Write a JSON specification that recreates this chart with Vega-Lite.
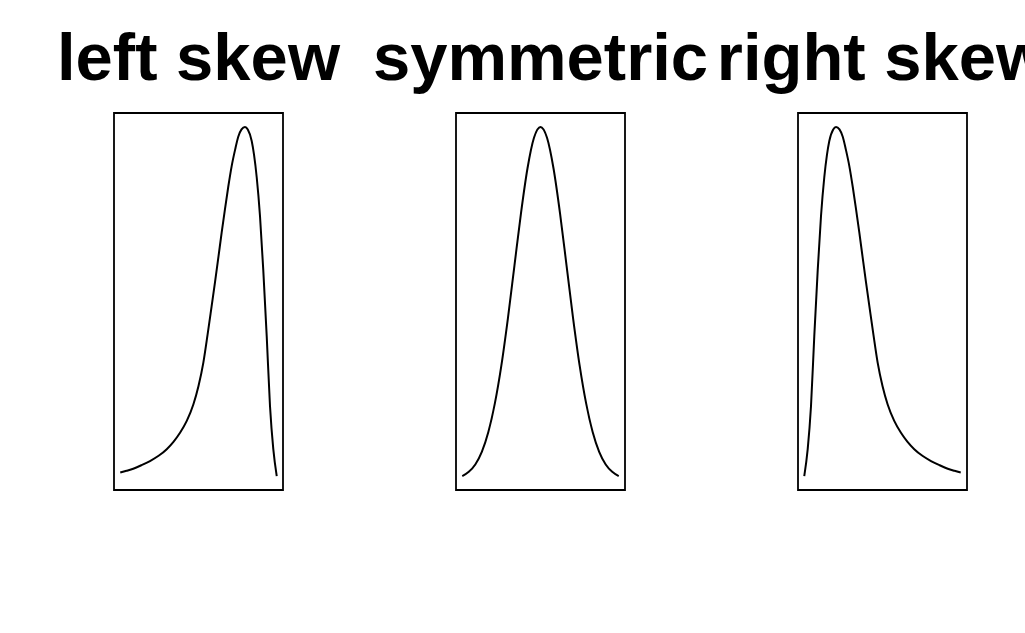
{
  "$schema": "https://vega.github.io/schema/vega-lite/v6.json",
  "background": "white",
  "padding": {"left": 56, "top": 25, "right": 0, "bottom": 0},
  "bounds": "flush",
  "spacing": 173,
  "config": {
    "view": {"stroke": "black", "strokeWidth": 1.8},
    "title": {"font": "Liberation Sans", "fontSize": 67, "fontWeight": "bold", "color": "black", "anchor": "middle", "baseline": "alphabetic", "offset": 19},
    "axis": {"disable": true}
  },
  "datasets": {
    "left": [
      {"x": 0.000, "y": 0.010}, {"x": 0.040, "y": 0.015}, {"x": 0.083, "y": 0.021}, {"x": 0.135, "y": 0.031},
      {"x": 0.190, "y": 0.043}, {"x": 0.245, "y": 0.058}, {"x": 0.297, "y": 0.077}, {"x": 0.340, "y": 0.098},
      {"x": 0.382, "y": 0.124}, {"x": 0.425, "y": 0.158}, {"x": 0.467, "y": 0.205}, {"x": 0.500, "y": 0.258},
      {"x": 0.531, "y": 0.325}, {"x": 0.558, "y": 0.405}, {"x": 0.584, "y": 0.487}, {"x": 0.606, "y": 0.557},
      {"x": 0.628, "y": 0.630}, {"x": 0.648, "y": 0.697}, {"x": 0.669, "y": 0.764}, {"x": 0.690, "y": 0.828},
      {"x": 0.712, "y": 0.888}, {"x": 0.734, "y": 0.935}, {"x": 0.754, "y": 0.972}, {"x": 0.775, "y": 0.993},
      {"x": 0.797, "y": 1.000}, {"x": 0.815, "y": 0.993}, {"x": 0.840, "y": 0.960}, {"x": 0.855, "y": 0.920},
      {"x": 0.872, "y": 0.856}, {"x": 0.893, "y": 0.745}, {"x": 0.914, "y": 0.590}, {"x": 0.936, "y": 0.400},
      {"x": 0.957, "y": 0.200}, {"x": 0.978, "y": 0.077}, {"x": 1.000, "y": 0.000}
    ],
    "sym": [
      {"x": 0.0000, "y": 0.000}, {"x": 0.0417, "y": 0.012}, {"x": 0.0833, "y": 0.033}, {"x": 0.1250, "y": 0.069},
      {"x": 0.1667, "y": 0.126}, {"x": 0.2083, "y": 0.208}, {"x": 0.2500, "y": 0.317}, {"x": 0.2917, "y": 0.452},
      {"x": 0.3333, "y": 0.602}, {"x": 0.3750, "y": 0.752}, {"x": 0.4167, "y": 0.881}, {"x": 0.4583, "y": 0.969},
      {"x": 0.5000, "y": 1.000}, {"x": 0.5417, "y": 0.969}, {"x": 0.5833, "y": 0.881}, {"x": 0.6250, "y": 0.752},
      {"x": 0.6667, "y": 0.602}, {"x": 0.7083, "y": 0.452}, {"x": 0.7500, "y": 0.317}, {"x": 0.7917, "y": 0.208},
      {"x": 0.8333, "y": 0.126}, {"x": 0.8750, "y": 0.069}, {"x": 0.9167, "y": 0.033}, {"x": 0.9583, "y": 0.012},
      {"x": 1.0000, "y": 0.000}
    ],
    "right": [
      {"x": 0.000, "y": 0.000}, {"x": 0.022, "y": 0.077}, {"x": 0.043, "y": 0.200}, {"x": 0.064, "y": 0.400},
      {"x": 0.086, "y": 0.590}, {"x": 0.107, "y": 0.745}, {"x": 0.128, "y": 0.856}, {"x": 0.145, "y": 0.920},
      {"x": 0.160, "y": 0.960}, {"x": 0.185, "y": 0.993}, {"x": 0.203, "y": 1.000}, {"x": 0.225, "y": 0.993},
      {"x": 0.246, "y": 0.972}, {"x": 0.266, "y": 0.935}, {"x": 0.288, "y": 0.888}, {"x": 0.310, "y": 0.828},
      {"x": 0.331, "y": 0.764}, {"x": 0.352, "y": 0.697}, {"x": 0.372, "y": 0.630}, {"x": 0.394, "y": 0.557},
      {"x": 0.416, "y": 0.487}, {"x": 0.442, "y": 0.405}, {"x": 0.469, "y": 0.325}, {"x": 0.500, "y": 0.258},
      {"x": 0.533, "y": 0.205}, {"x": 0.575, "y": 0.158}, {"x": 0.618, "y": 0.124}, {"x": 0.660, "y": 0.098},
      {"x": 0.703, "y": 0.077}, {"x": 0.755, "y": 0.058}, {"x": 0.810, "y": 0.043}, {"x": 0.865, "y": 0.031},
      {"x": 0.917, "y": 0.021}, {"x": 0.960, "y": 0.015}, {"x": 1.000, "y": 0.010}
    ]
  },
  "hconcat": [
    {
      "title": {"text": "left skew"},
      "width": 169, "height": 377,
      "data": {"name": "left"},
      "mark": {"type": "line", "color": "black", "strokeWidth": 2, "interpolate": "monotone"},
      "encoding": {
        "x": {"field": "x", "type": "quantitative", "scale": {"domain": [-0.04, 1.04], "nice": false, "zero": false}, "axis": null},
        "y": {"field": "y", "type": "quantitative", "scale": {"domain": [-0.04, 1.04], "nice": false, "zero": false}, "axis": null}
      }
    },
    {
      "title": {"text": "symmetric"},
      "width": 169, "height": 377,
      "data": {"name": "sym"},
      "mark": {"type": "line", "color": "black", "strokeWidth": 2, "interpolate": "monotone"},
      "encoding": {
        "x": {"field": "x", "type": "quantitative", "scale": {"domain": [-0.04, 1.04], "nice": false, "zero": false}, "axis": null},
        "y": {"field": "y", "type": "quantitative", "scale": {"domain": [-0.04, 1.04], "nice": false, "zero": false}, "axis": null}
      }
    },
    {
      "title": {"text": "right skew"},
      "width": 169, "height": 377,
      "data": {"name": "right"},
      "mark": {"type": "line", "color": "black", "strokeWidth": 2, "interpolate": "monotone"},
      "encoding": {
        "x": {"field": "x", "type": "quantitative", "scale": {"domain": [-0.04, 1.04], "nice": false, "zero": false}, "axis": null},
        "y": {"field": "y", "type": "quantitative", "scale": {"domain": [-0.04, 1.04], "nice": false, "zero": false}, "axis": null}
      }
    }
  ]
}
